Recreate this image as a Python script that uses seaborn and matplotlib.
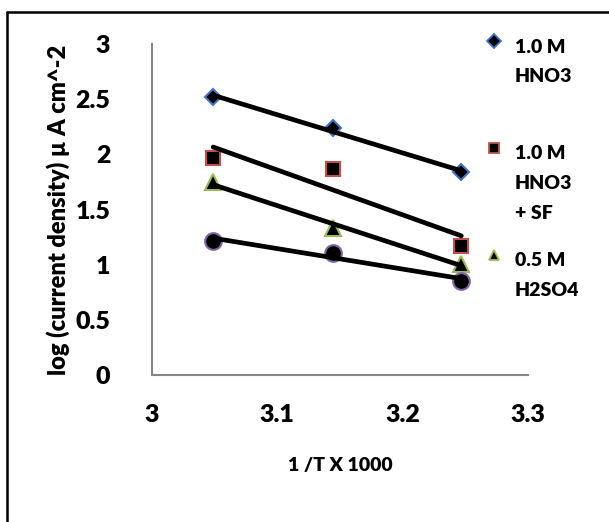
import numpy as np
import pandas as pd
import matplotlib
matplotlib.use("Agg")
import matplotlib.pyplot as plt
from matplotlib.lines import Line2D
from matplotlib.legend_handler import HandlerLine2D
import seaborn as sns

# data
inv_T = [3.0488, 3.1447, 3.2468]
hno3 = [2.52, 2.235, 1.836]
hno3_sf = [1.97, 1.863, 1.171]
h2so4 = [1.745, 1.33, 1.01]
fourth = [1.217, 1.108, 0.851]

labels = ["1.0 M\nHNO3\n ", "1.0 M\nHNO3\n+ SF", "0.5 M\nH2SO4\n "]
xticks = [3, 3.1, 3.2, 3.3]
yticks = [0, 0.5, 1, 1.5, 2, 2.5, 3]
markers = ["D", "s", "^", "o"]
edge_colors = ["#4472C4", "#C0504D", "#9BBB59", "#8064A2"]
sizes = [8, 10, 11, 12]

sns.set_style("white")
plt.rcParams["font.family"] = "Lato"
plt.rcParams["font.weight"] = 800
plt.rcParams["text.color"] = "black"
plt.rcParams["axes.labelcolor"] = "black"
plt.rcParams["xtick.labelcolor"] = "black"
plt.rcParams["ytick.labelcolor"] = "black"

fig = plt.figure(figsize=(6.09, 5.22), dpi=100)
ax = fig.add_axes([0.2496, 0.2816, 0.867 - 0.2496, 0.9157 - 0.2816])

series = [hno3, hno3_sf, h2so4, fourth]
for ys, m, ec, ms in zip(series, markers, edge_colors, sizes):
    ax.plot(inv_T, ys, linestyle="none", marker=m, markersize=ms,
            markerfacecolor="black", markeredgecolor=ec, markeredgewidth=1.5,
            zorder=3)
    df = pd.DataFrame({"x": inv_T, "y": ys})
    sns.regplot(data=df, x="x", y="y", ax=ax, scatter=False, ci=None,
                color="black", line_kws={"lw": 3.4, "zorder": 4})

ax.set_xlim(3, 3.3)
ax.set_ylim(0, 3)
ax.set_xticks(xticks)
ax.set_xticklabels([f"{v:g}" for v in xticks], fontsize=18, fontweight=800)
ax.set_yticks(yticks)
ax.set_yticklabels([f"{v:g}" for v in yticks], fontsize=18, fontweight=800)
ax.tick_params(axis="both", direction="out", color="#868686",
               labelcolor="black", width=1.3, length=9)
ax.tick_params(axis="y", pad=21)
ax.tick_params(axis="x", pad=12)
for s in ["top", "right"]:
    ax.spines[s].set_visible(False)
for s in ["left", "bottom"]:
    ax.spines[s].set_color("#868686")
    ax.spines[s].set_linewidth(1.5)
ax.set_xlabel("1 /T X 1000", fontsize=14, fontweight=800, labelpad=22)
ax.set_ylabel("log (current density) \u00b5 A cm^-2", fontsize=17,
              fontweight=800, labelpad=4)


class FirstLineHandler(HandlerLine2D):
    def __init__(self, shift, **kw):
        super().__init__(**kw)
        self.shift = shift

    def create_artists(self, legend, orig_handle, xdescent, ydescent,
                       width, height, fontsize, trans):
        arts = super().create_artists(legend, orig_handle, xdescent, ydescent,
                                      width, height, fontsize, trans)
        for a in arts:
            a.set_ydata(np.asarray(a.get_ydata(), dtype=float) + self.shift)
        return arts


handles = []
for m, ec in zip(markers[:3], edge_colors[:3]):
    handles.append(Line2D([], [], linestyle="none", marker=m, markersize=7,
                          markerfacecolor="black", markeredgecolor=ec,
                          markeredgewidth=1.3))
hmap = {h: FirstLineHandler(shift=26) for h in handles}
leg = ax.legend(handles, labels, handler_map=hmap, loc="upper left",
                bbox_to_anchor=(0.87, 1.04), frameon=False,
                prop={"family": "Lato", "size": 14, "weight": 800},
                handlelength=0.7, handletextpad=0.75, labelspacing=1.58,
                borderaxespad=0)
for t in leg.get_texts():
    t.set_linespacing(1.9)

# partial border of the chart area
fig.add_artist(Line2D([6.5 / 609, 1], [1 - 12 / 522, 1 - 12 / 522],
                      color="black", lw=1.8, transform=fig.transFigure))
fig.add_artist(Line2D([6.5 / 609, 6.5 / 609], [0, 1 - 12 / 522],
                      color="black", lw=1.8, transform=fig.transFigure))

fig.savefig("out.png", dpi=100)
